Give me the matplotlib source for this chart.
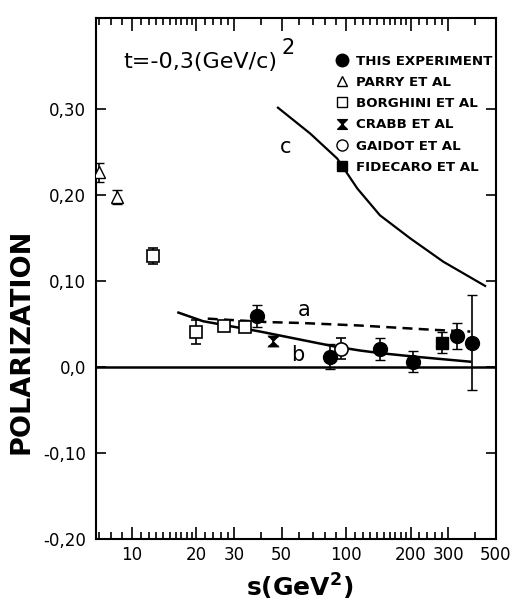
import matplotlib
matplotlib.use("Agg")
import matplotlib.pyplot as plt
from matplotlib.path import Path
from matplotlib.lines import Line2D
from matplotlib.ticker import FixedLocator, NullFormatter

plt.rcParams['font.family'] = ['DejaVu Sans']

# measured polarization vs s, t = -0.3 (GeV/c)^2
this_s = [38.4, 84, 144, 206, 331, 388]
this_p = [0.059, 0.012, 0.021, 0.006, 0.036, 0.028]
this_err = [0.013, 0.014, 0.013, 0.012, 0.015, 0.055]

parry_s = [7.0, 8.5]
parry_p = [0.226, 0.197]
parry_err = [0.011, 0.008]

borghini_s = [12.6, 19.9, 26.9, 33.8]
borghini_p = [0.129, 0.041, 0.048, 0.046]
borghini_err = [0.009, 0.014, 0.005, 0.005]

crabb_s = [45.7]
crabb_p = [0.030]
crabb_err = [0.005]

gaidot_s = [95]
gaidot_p = [0.021]
gaidot_err = [0.012]

fidecaro_s = [282]
fidecaro_p = [0.028]
fidecaro_err = [0.012]

# model curves
curve_a_s = [22.6, 42.8, 61, 116, 256, 380]
curve_a_p = [0.056, 0.052, 0.051, 0.048, 0.043, 0.041]
curve_b_s = [16.5, 21.5, 39.7, 87, 116, 144, 206, 380]
curve_b_p = [0.063, 0.053, 0.041, 0.024, 0.019, 0.016, 0.012, 0.006]
curve_c_s = [48.1, 68, 90.9, 113, 144, 200, 285, 446]
curve_c_p = [0.301, 0.271, 0.242, 0.207, 0.176, 0.149, 0.122, 0.094]

x_ticks = [10, 20, 30, 50, 100, 200, 300, 500]
x_ticklabels = ["10", "20", "30", "50", "100", "200", "300", "500"]
y_ticks = [-0.20, -0.10, 0.0, 0.10, 0.20, 0.30]
y_ticklabels = ["-0,20", "-0,10", "0,0", "0,10", "0,20", "0,30"]

# hourglass marker
hourglass = Path([(-1, 1), (1, 1), (-1, -1), (1, -1), (-1, 1)],
                 [Path.MOVETO, Path.LINETO, Path.LINETO, Path.LINETO,
                  Path.CLOSEPOLY])

fig = plt.figure(figsize=(5.26, 6.05), dpi=100)
ax = fig.add_axes([0.1825, 0.109, 0.760, 0.861])

ax.set_xscale("log")
ax.set_xlim(6.8, 500)
ax.set_ylim(-0.20, 0.405)

ax.axhline(0.0, color="black", lw=1.8, zorder=1)

ax.plot(curve_a_s, curve_a_p, color="black", lw=1.8, ls=(0, (4, 2.5)))
ax.plot(curve_b_s, curve_b_p, color="black", lw=1.8)
ax.plot(curve_c_s, curve_c_p, color="black", lw=1.6)

eb = dict(color="black", ecolor="black", elinewidth=1.2, capsize=3.5,
          capthick=1.2, ls="none", zorder=3)

ax.errorbar(parry_s, parry_p, yerr=parry_err, marker="^", ms=8,
            mfc="white", mew=1.0, **eb)
ax.errorbar(borghini_s, borghini_p, yerr=borghini_err, marker="s", ms=8,
            mfc="white", mew=1.2, **eb)
ax.errorbar(crabb_s, crabb_p, yerr=crabb_err, marker=hourglass, ms=8,
            mfc="black", mew=0.5, **eb)
ax.errorbar(gaidot_s, gaidot_p, yerr=gaidot_err, marker="o", ms=9.5,
            mfc="white", mew=1.2, **eb)
ax.errorbar(fidecaro_s, fidecaro_p, yerr=fidecaro_err, marker="s", ms=8,
            mfc="black", mew=1.0, **eb)
ax.errorbar(this_s, this_p, yerr=this_err, marker="o", ms=10,
            mfc="black", mew=1.0, **eb)

ax.text(64, 0.066, "a", fontsize=15, ha="center", va="center")
ax.text(59.5, 0.014, "b", fontsize=15, ha="center", va="center")
ax.text(52, 0.255, "c", fontsize=15, ha="center", va="center")

ax.text(0.068, 0.915, "t=-0,3(GeV/c)", transform=ax.transAxes,
        fontsize=16, ha="left", va="center")
ax.text(0.463, 0.942, "2", transform=ax.transAxes,
        fontsize=15, ha="left", va="center")

handles = [
    Line2D([], [], ls="none", marker="o", ms=9, color="black"),
    Line2D([], [], ls="none", marker="^", ms=7, color="black", mfc="white"),
    Line2D([], [], ls="none", marker="s", ms=7, color="black", mfc="white"),
    Line2D([], [], ls="none", marker=hourglass, ms=7, color="black"),
    Line2D([], [], ls="none", marker="o", ms=8, color="black", mfc="white"),
    Line2D([], [], ls="none", marker="s", ms=7, color="black"),
]
labels = ["THIS EXPERIMENT", "PARRY ET AL", "BORGHINI ET AL",
          "CRABB ET AL", "GAIDOT ET AL", "FIDECARO ET AL"]
ax.legend(handles, labels, loc="upper left", bbox_to_anchor=(0.598, 0.93),
          frameon=False, borderpad=0, borderaxespad=0, handlelength=1.1,
          handletextpad=0.5, labelspacing=0.62,
          prop=dict(size=9.6, weight="bold"))

# ticks on all four sides, pointing in
ax.xaxis.set_major_locator(FixedLocator(x_ticks))
ax.set_xticklabels(x_ticklabels)
minor_x = [7, 8, 9, 11, 12, 13, 14, 15, 16, 17, 18, 19, 22, 24, 26, 28,
           40, 60, 70, 80, 90, 110, 120, 130, 140, 150, 160, 170, 180, 190,
           220, 240, 260, 280, 400]
ax.xaxis.set_minor_locator(FixedLocator(minor_x))
ax.xaxis.set_minor_formatter(NullFormatter())
ax.set_yticks(y_ticks)
ax.set_yticklabels(y_ticklabels)
ax.tick_params(which="both", direction="in", top=True, right=True,
               width=1.2, labelsize=12)
ax.tick_params(axis="x", which="major", length=9, pad=5)
ax.tick_params(axis="x", which="minor", length=5)
ax.tick_params(axis="y", which="major", length=7, pad=7)
for sp in ax.spines.values():
    sp.set_linewidth(1.5)

ax.set_ylabel("POLARIZATION", fontsize=19.5, fontweight="bold")
ax.yaxis.set_label_coords(-0.155, 0.38)
ax.set_xlabel(r"$\mathbf{s(GeV}^{\mathbf{2}}\mathbf{)}$", fontsize=18)
ax.xaxis.set_label_coords(0.51, -0.062)

fig.savefig("out.png", dpi=100)
